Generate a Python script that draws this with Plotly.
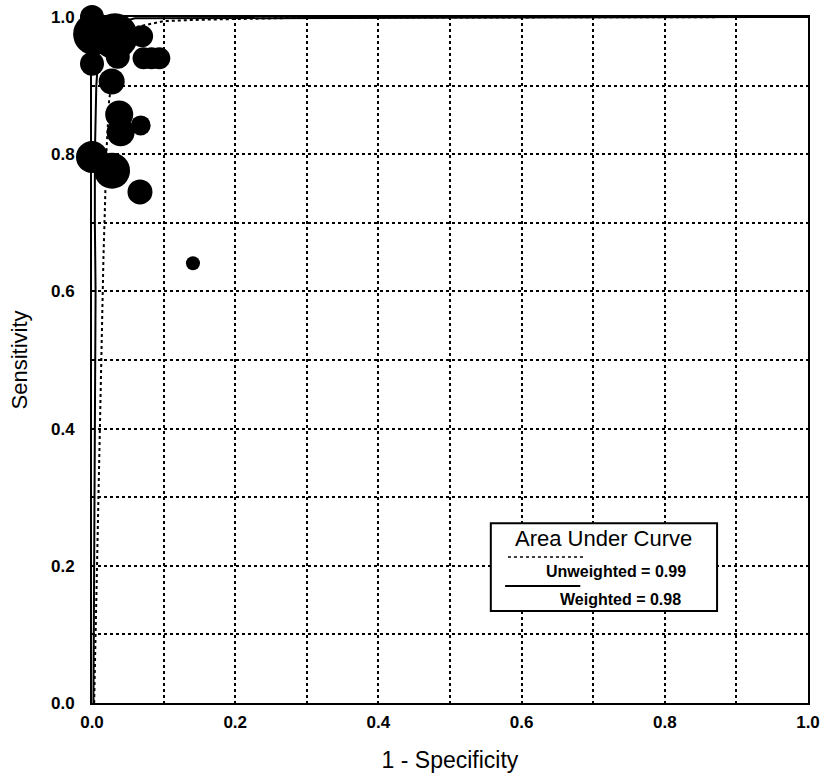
import plotly.graph_objects as go

# ---- data ----
# study points (1 - specificity, sensitivity, bubble diameter in px)
study_fpr = [0.000, 0.050, 0.003, 0.032, 0.070, 0.000, 0.036, 0.072, 0.083, 0.094,
             0.0275, 0.038, 0.040, 0.068, 0.000, 0.028, 0.067, 0.141]
study_sens = [1.000, 1.004, 0.975, 0.972, 0.972, 0.932, 0.942, 0.940, 0.940, 0.940,
              0.906, 0.858, 0.832, 0.842, 0.796, 0.776, 0.745, 0.641]
study_size = [24, 18, 42, 46, 22, 24, 24, 22, 22, 22,
              26, 28, 28, 20, 32, 36, 25, 14]

# unweighted summary ROC (dotted)
unw_fpr = [0.003, 0.005, 0.006, 0.008, 0.010, 0.011, 0.013, 0.016, 0.018, 0.020,
           0.024, 0.035, 0.060, 0.100, 0.150, 0.300, 1.000]
unw_sens = [0.000, 0.100, 0.200, 0.300, 0.400, 0.450, 0.550, 0.650, 0.720, 0.800,
            0.880, 0.950, 0.985, 0.994, 0.996, 0.999, 1.000]

# weighted summary ROC (solid)
w_fpr = [0.002, 0.003, 0.004, 0.005, 0.005, 0.004, 0.004, 0.006, 0.010, 0.030, 0.060, 1.000]
w_sens = [0.000, 0.150, 0.300, 0.450, 0.600, 0.700, 0.800, 0.900, 0.960, 0.990, 0.998, 1.000]

x_ticks = [0.0, 0.2, 0.4, 0.6, 0.8, 1.0]
y_ticks = [0.0, 0.2, 0.4, 0.6, 0.8, 1.0]
auc_unweighted = 0.99
auc_weighted = 0.98

FONT = "Liberation Sans, Arial, sans-serif"

fig = go.Figure()
fig.add_trace(go.Scatter(x=unw_fpr, y=unw_sens, mode="lines",
                         line=dict(color="black", width=2, dash="dot"),
                         hoverinfo="skip", showlegend=False))
fig.add_trace(go.Scatter(x=w_fpr, y=w_sens, mode="lines",
                         line=dict(color="black", width=2),
                         hoverinfo="skip", showlegend=False))
fig.add_trace(go.Scatter(x=study_fpr, y=study_sens, mode="markers",
                         marker=dict(size=study_size, color="black", opacity=1,
                                     line=dict(width=0)),
                         cliponaxis=False, showlegend=False))

minor_grid = dict(dtick=0.1, showgrid=True, gridcolor="black", gridwidth=2, griddash="dot")
fig.update_xaxes(range=[0, 1], tickvals=x_ticks, ticktext=[f"{v:.1f}" for v in x_ticks],
                 showgrid=True, gridcolor="black", gridwidth=2, griddash="dot",
                 minor=minor_grid, automargin=False,
                 showline=True, linecolor="black", linewidth=2, mirror=True,
                 zeroline=False, ticks="", ticklabelstandoff=3,
                 tickfont=dict(family=FONT, size=17, color="black", weight="bold"),
                 title=dict(text="1 - Specificity", standoff=20,
                            font=dict(family=FONT, size=23, color="black")))
fig.update_yaxes(range=[0, 1], tickvals=y_ticks, ticktext=[f"{v:.1f}" for v in y_ticks],
                 showgrid=True, gridcolor="black", gridwidth=2, griddash="dot",
                 minor=minor_grid, automargin=False,
                 showline=True, linecolor="black", linewidth=2, mirror=True,
                 zeroline=False, ticks="", ticklabelstandoff=12,
                 tickfont=dict(family=FONT, size=17, color="black", weight="bold"),
                 title=dict(text="Sensitivity", standoff=17,
                            font=dict(family=FONT, size=22, color="black")))

# AUC box
fig.add_shape(type="rect", xref="paper", yref="paper", x0=0.557, x1=0.873, y0=0.134, y1=0.262,
              line=dict(color="black", width=2), fillcolor="white", layer="above")
fig.add_shape(type="line", xref="paper", yref="paper", x0=0.581, x1=0.689, y0=0.213, y1=0.213,
              line=dict(color="black", width=1.5, dash="dot"), layer="above")
fig.add_shape(type="line", xref="paper", yref="paper", x0=0.577, x1=0.682, y0=0.1706, y1=0.1706,
              line=dict(color="black", width=2), layer="above")
fig.add_annotation(xref="paper", yref="paper", x=0.715, y=0.2405, text="Area Under Curve",
                   xanchor="center", yanchor="middle",
                   showarrow=False, font=dict(family=FONT, size=22, color="black"))
fig.add_annotation(xref="paper", yref="paper", x=0.732, y=0.191,
                   text=f"Unweighted = {auc_unweighted:.2f}",
                   xanchor="center", yanchor="middle",
                   showarrow=False, font=dict(family=FONT, size=16, color="black", weight="bold"))
fig.add_annotation(xref="paper", yref="paper", x=0.738, y=0.1516,
                   text=f"Weighted = {auc_weighted:.2f}",
                   xanchor="center", yanchor="middle",
                   showarrow=False, font=dict(family=FONT, size=16, color="black", weight="bold"))

fig.update_layout(width=824, height=773, plot_bgcolor="white", paper_bgcolor="white",
                  margin=dict(l=92, r=16, t=17, b=70), showlegend=False)

fig.write_html("out.html")
